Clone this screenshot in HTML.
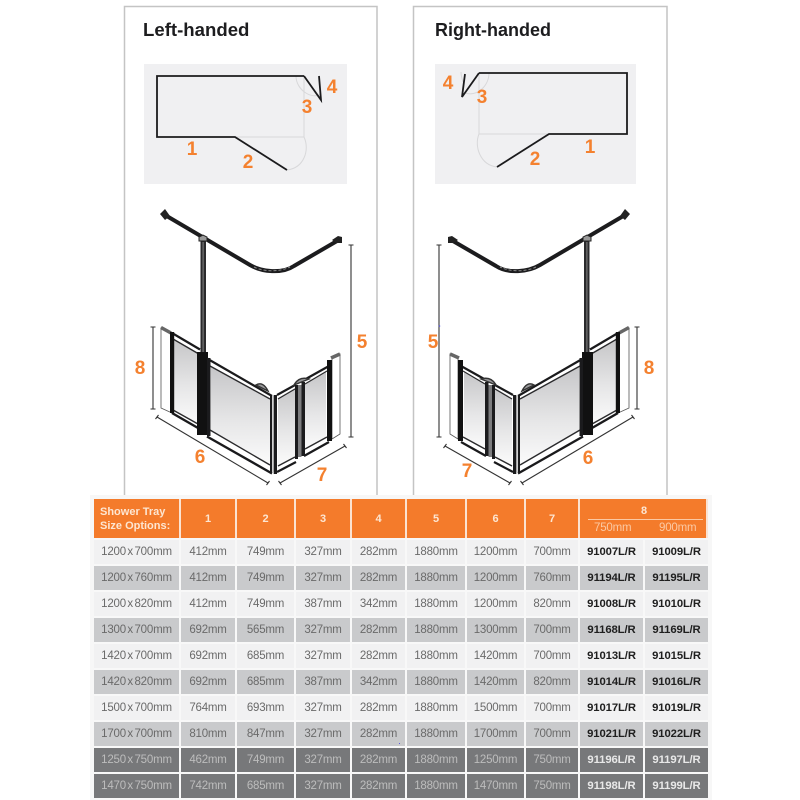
<!DOCTYPE html>
<html><head><meta charset="utf-8">
<style>
html,body{margin:0;padding:0;background:#fff}
#p{position:relative;width:800px;height:800px;overflow:hidden;background:#fff;font-family:"Liberation Sans",sans-serif;filter:blur(.35px)}
svg{position:absolute;left:0;top:0}
.n{font:bold 19px "Liberation Sans",sans-serif;fill:#f4812f;text-anchor:middle}
.t{font:bold 18.6px "Liberation Sans",sans-serif;fill:#1d1d1f}
table{position:absolute;left:94px;width:614px;border-collapse:separate;border-spacing:0;table-layout:fixed}
td{padding:0;text-align:center;box-sizing:border-box;border-right:2px solid #f8f8f8;border-bottom:2px solid #f8f8f8;font-size:11.5px;letter-spacing:-.2px;color:#6a6a6a;white-space:nowrap;overflow:hidden}
td:last-child{border-right:0}
#b tr{height:26px}
#b td{height:26px}
td:first-child{word-spacing:-1.5px}
.a td{background:#f1f1f2}
.c td{background:#c9cacc}
.d td{background:#77787a;color:#bdbdbd}
#b td.k{font-weight:bold;color:#1f1f1f;font-size:11.3px;letter-spacing:-.1px}
#b .d td.k{color:#e8e8e8}
#h{top:499px}
#h td{height:39px;background:#f47b2b;color:#fde6d2;font-weight:bold;font-size:11px;border-bottom:0;border-right:2px solid #fbe3d2}
#h td:first-child{text-align:left;padding-left:6px;line-height:14px;font-size:11px;letter-spacing:0;word-spacing:0}
#bg{position:absolute;left:90px;top:495px;width:622px;height:305px;background:#f7f7f7}
.e{position:absolute;color:#fbc9a4;font-size:11.5px;letter-spacing:-.2px;top:522px}
.e8{position:absolute;left:580px;width:128px;text-align:center;top:505px;color:#fde6d2;font:bold 11px "Liberation Sans",sans-serif}
.l{position:absolute;left:588px;width:115px;top:519px;height:1px;background:#fbc9a4}
.dot{position:absolute;left:398.500px;top:742.500px;width:1.500px;height:1.500px;background:#5a5ae0}
</style></head><body><div id="p">
<svg width="800" height="800" viewBox="0 0 800 800">
<defs>
<linearGradient id="g" x1="0" y1="0" x2="0" y2="1"><stop offset="0" stop-color="#c6c6c8"/><stop offset=".55" stop-color="#e6e6e7"/><stop offset="1" stop-color="#fbfbfb"/></linearGradient>
<g id="sh">
 <!-- rail -->
 <path d="M165,215 L250,265 C262,272 282,274 294,266 L337,241" fill="none" stroke="#1c1c1e" stroke-width="4"/>
 <path d="M254,267 C264,272 280,272 290,267" fill="none" stroke="#888" stroke-width="1" stroke-dasharray="3 2"/>
 <path d="M160,214 l5,-5 l5,7 l-5,4z M332,240 l6,-4 l4,1 l0,6 l-6,0z" fill="#222"/>
 <rect x="200.500" y="240" width="5.500" height="115" fill="#2a2a2c"/>
 <rect x="202.500" y="242" width="1.200" height="110" fill="#777"/>
 <path d="M199,237 l4,-2 l4,2 v4 h-8z" fill="#999" stroke="#222" stroke-width="1"/>
 <!-- fillers -->
 <path d="M161,328 L172,334 V413 L161,408Z M332,358 L340,354 V434 L332,439Z" fill="#fff" stroke="#555" stroke-width=".8"/>
 <path d="M161,327.500 L171,333 M331,358 L340,354" stroke="#666" stroke-width="3.500"/>
 <!-- glass -->
 <path d="M173,340 L198,354 V424 L173,411Z" fill="url(#g)"/>
 <path d="M211,367 L270,399 V465 L211,431Z" fill="url(#g)"/>
 <path d="M278,398 L295,388 V457 L278,466Z" fill="url(#g)"/>
 <path d="M305,384 L326,372 V437 L305,449Z" fill="url(#g)"/>
 <!-- frames: outer, white strip, inner -->
 <g fill="none">
  <path d="M172,333 L200,349.500 M207,358.500 L272,396" stroke="#1a1a1c" stroke-width="2.200"/>
  <path d="M173,339 L198,353.500 M210,366 L270,399" stroke="#2a2a2c" stroke-width="1.400"/>
  <path d="M172,413 L198,428 M207,436.500 L272,473.500" stroke="#1a1a1c" stroke-width="2.400"/>
  <path d="M173,410 L198,424 M210,430 L270,465" stroke="#2a2a2c" stroke-width="1.400"/>
  <path d="M277,395 L296,384.500 M304,380 L329,366" stroke="#1a1a1c" stroke-width="2.200"/>
  <path d="M278,399 L295,389 M305,384 L327,371" stroke="#2a2a2c" stroke-width="1.200"/>
  <path d="M277,472 L296,462 M304,456 L329,442" stroke="#1a1a1c" stroke-width="2.200"/>
  <path d="M278,466 L295,457 M305,449 L327,437" stroke="#2a2a2c" stroke-width="1.400"/>
 </g>
 <!-- caps -->
 <path d="M256,385 Q263,381 268,391 Z" fill="#9a9a9c" stroke="#333" stroke-width="1.400"/>
 <path d="M294,385 Q299,376 309,379 Z" fill="#9a9a9c" stroke="#333" stroke-width="1.400"/>
 <!-- posts -->
 <rect x="170" y="332" width="4.200" height="81" fill="#111"/>
 <rect x="197" y="352" width="11" height="83" fill="#111"/>
 <rect x="207" y="358" width="3.500" height="78" fill="#1b1b1d"/>
 <rect x="270" y="396" width="2.200" height="76" fill="#1b1b1d"/>
 <rect x="272.200" y="396" width="1.500" height="76" fill="#ddd"/>
 <rect x="273.700" y="395" width="3.300" height="79" fill="#1b1b1d"/>
 <rect x="295" y="385" width="3" height="74" fill="#1b1b1d"/>
 <rect x="298" y="385" width="3.500" height="72" fill="#7c7c7e"/>
 <rect x="301.500" y="382" width="3.500" height="74" fill="#1b1b1d"/>
 <rect x="327" y="360" width="5" height="81" fill="#111"/>
 <!-- dimensions -->
 <g stroke="#333" stroke-width="1.100" fill="none">
  <path d="M351,245 V437 M348.500,245 h5 M348.500,437 h5"/>
  <path d="M153,327 V409 M150.500,327 h5 M150.500,409 h5"/>
  <path d="M157,417 L268,483 M158.500,415 l-3,4 M269.500,481 l-3,4"/>
  <path d="M280,483 L345,446 M278.500,481 l3,4 M343.500,444 l3,4"/>
 </g>
</g>
</defs>
<!-- panels -->
<path d="M124.500,495 V6.500 H377 V495" fill="none" stroke="#c4c4c4" stroke-width="1.500"/>
<path d="M413.500,495 V6.500 H667 V495" fill="none" stroke="#c4c4c4" stroke-width="1.500"/>
<text class="t" x="143" y="36">Left-handed</text>
<text class="t" x="435" y="36" style="font-size:18px">Right-handed</text>
<!-- plans -->
<rect x="144" y="64" width="203" height="120" fill="#f0f0f2"/>
<rect x="435" y="64" width="201" height="120" fill="#f0f0f2"/>
<g fill="none" stroke="#d8d8da" stroke-width="1">
 <path d="M235,137 H304 V76"/><path d="M304,137 C310,150 304,168 287,170"/><path d="M296,76 C296,90 312,100 321,94"/>
 <path d="M549,134 H479 V73"/><path d="M479,134 C474,146 480,165 497,167"/><path d="M489,73 C489,85 478,97 465,93"/><path d="M461,72 C461,76 462,79 463,82"/>
</g>
<g fill="none" stroke="#1b1b1d" stroke-width="1.800" stroke-linejoin="miter">
 <path d="M304,76 H157 V137 H235 L287,170"/><path d="M304,76 L321,100 L319,76"/>
 <path d="M479,73 H627 V134 H549 L497,167"/><path d="M465,74 L462,97 L479,73"/>
</g>
<text class="n" x="192" y="155">1</text><text class="n" x="248" y="168">2</text><text class="n" x="307" y="113">3</text><text class="n" x="332" y="93">4</text>
<text class="n" x="448" y="89">4</text><text class="n" x="482" y="103">3</text><text class="n" x="535" y="165">2</text><text class="n" x="590" y="153">1</text>
<use href="#sh"/>
<use href="#sh" transform="translate(790,0) scale(-1,1)"/>
<text class="n" x="362" y="348">5</text><text class="n" x="140" y="374">8</text><text class="n" x="200" y="463">6</text><text class="n" x="322" y="481">7</text>
<text class="n" x="433" y="348">5</text><text class="n" x="649" y="374">8</text><text class="n" x="588" y="464">6</text><text class="n" x="467" y="477">7</text>
<circle cx="439.500" cy="326" r=".8" fill="#5a5ae0"/>
</svg>
<div id="bg"></div>
<table id="h"><colgroup><col style="width:87px"><col style="width:56px"><col style="width:59px"><col style="width:56px"><col style="width:55px"><col style="width:60px"><col style="width:59px"><col style="width:54px"><col style="width:128px"></colgroup>
<tr><td>Shower Tray<br>Size Options:</td><td>1</td><td>2</td><td>3</td><td>4</td><td>5</td><td>6</td><td>7</td><td></td></tr></table>
<div class="e8">8</div><div class="l"></div>
<div class="e" style="left:594px">750mm</div><div class="e" style="left:659px">900mm</div>
<table id="b" style="top:540px"><colgroup><col style="width:87px"><col style="width:56px"><col style="width:59px"><col style="width:56px"><col style="width:55px"><col style="width:60px"><col style="width:59px"><col style="width:54px"><col style="width:65px"><col style="width:63px"></colgroup>
<tr class="a"><td>1200 x 700mm</td><td>412mm</td><td>749mm</td><td>327mm</td><td>282mm</td><td>1880mm</td><td>1200mm</td><td>700mm</td><td class="k">91007L/R</td><td class="k">91009L/R</td></tr>
<tr class="c"><td>1200 x 760mm</td><td>412mm</td><td>749mm</td><td>327mm</td><td>282mm</td><td>1880mm</td><td>1200mm</td><td>760mm</td><td class="k">91194L/R</td><td class="k">91195L/R</td></tr>
<tr class="a"><td>1200 x 820mm</td><td>412mm</td><td>749mm</td><td>387mm</td><td>342mm</td><td>1880mm</td><td>1200mm</td><td>820mm</td><td class="k">91008L/R</td><td class="k">91010L/R</td></tr>
<tr class="c"><td>1300 x 700mm</td><td>692mm</td><td>565mm</td><td>327mm</td><td>282mm</td><td>1880mm</td><td>1300mm</td><td>700mm</td><td class="k">91168L/R</td><td class="k">91169L/R</td></tr>
<tr class="a"><td>1420 x 700mm</td><td>692mm</td><td>685mm</td><td>327mm</td><td>282mm</td><td>1880mm</td><td>1420mm</td><td>700mm</td><td class="k">91013L/R</td><td class="k">91015L/R</td></tr>
<tr class="c"><td>1420 x 820mm</td><td>692mm</td><td>685mm</td><td>387mm</td><td>342mm</td><td>1880mm</td><td>1420mm</td><td>820mm</td><td class="k">91014L/R</td><td class="k">91016L/R</td></tr>
<tr class="a"><td>1500 x 700mm</td><td>764mm</td><td>693mm</td><td>327mm</td><td>282mm</td><td>1880mm</td><td>1500mm</td><td>700mm</td><td class="k">91017L/R</td><td class="k">91019L/R</td></tr>
<tr class="c"><td>1700 x 700mm</td><td>810mm</td><td>847mm</td><td>327mm</td><td>282mm</td><td>1880mm</td><td>1700mm</td><td>700mm</td><td class="k">91021L/R</td><td class="k">91022L/R</td></tr>
<tr class="d"><td>1250 x 750mm</td><td>462mm</td><td>749mm</td><td>327mm</td><td>282mm</td><td>1880mm</td><td>1250mm</td><td>750mm</td><td class="k">91196L/R</td><td class="k">91197L/R</td></tr>
<tr class="d"><td>1470 x 750mm</td><td>742mm</td><td>685mm</td><td>327mm</td><td>282mm</td><td>1880mm</td><td>1470mm</td><td>750mm</td><td class="k">91198L/R</td><td class="k">91199L/R</td></tr>
</table>
<div class="dot"></div>
</div></body></html>
